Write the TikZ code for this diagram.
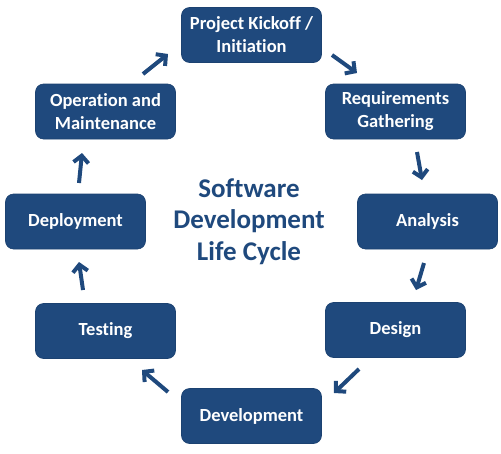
\documentclass[tikz,border=0pt]{standalone}
\usepackage{fontspec}
\setmainfont{Carlito}[Ligatures={NoCommon}]
\usetikzlibrary{arrows.meta}
\definecolor{boxblue}{RGB}{31,73,125}
\begin{document}
\begin{tikzpicture}[x=1pt,y=-1pt,
  phase/.style={draw=boxblue!90!black,line width=0.6pt,fill=boxblue,rounded corners=8pt,
    minimum width=140pt,minimum height=55pt,align=center,text=white,
    font=\fontsize{18.5}{23}\selectfont\bfseries,inner sep=0pt},
  flow/.style={draw=boxblue,line width=4pt,-{Straight Barb[length=7pt,width=15pt,line width=4pt]}}]
\useasboundingbox (0,0) rectangle (501,453);
\node[phase] (kick) at (251.5,35) {Project Kickoff /\\Initiation};
\node[phase] (req)  at (395.5,111.5) {Requirements\\Gathering};
\node[phase] (ana)  at (427.5,221.5) {Analysis};
\node[phase] (des)  at (395.5,330) {Design};
\node[phase] (dev)  at (251.5,416) {Development};
\node[phase] (test) at (105.5,331) {Testing};
\node[phase] (dep)  at (75.5,221.5) {Deployment};
\node[phase] (ops)  at (105.5,111.5) {Operation and\\Maintenance};
\node[text=boxblue,align=center,font=\fontsize{27}{31.5}\selectfont\bfseries] (title) at (249,221.5)
  {Software\\Development\\Life Cycle};
\coordinate (a1s) at (332,55); \coordinate (a1e) at (357,73);
\coordinate (a2s) at (417,152); \coordinate (a2e) at (422,180);
\coordinate (a3s) at (424,263); \coordinate (a3e) at (416,290);
\coordinate (a4s) at (359,369); \coordinate (a4e) at (334,393);
\coordinate (a5s) at (168,392); \coordinate (a5e) at (142,370);
\coordinate (a6s) at (83,290); \coordinate (a6e) at (79,262);
\coordinate (a7s) at (79,183); \coordinate (a7e) at (82,153);
\coordinate (a8s) at (143,74); \coordinate (a8e) at (168,54);
\foreach \i in {1,...,8} \draw[flow] (a\i s) -- (a\i e);
\end{tikzpicture}
\end{document}
